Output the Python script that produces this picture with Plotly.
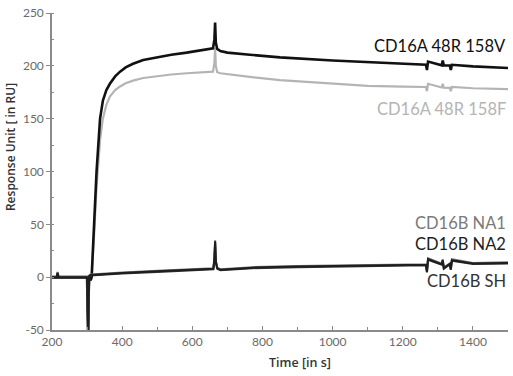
import plotly.graph_objects as go

# ---- data ----
t_a = [200, 214, 216, 218, 300, 302, 303, 304, 306, 310, 313, 320, 327, 337, 345, 355, 365, 380, 394,
       410, 431, 460, 499, 540, 584, 640, 659, 663, 665, 667, 671, 680, 700, 764, 850, 1000, 1100,
       1200, 1266, 1269, 1272, 1311, 1314, 1317, 1334, 1337, 1340, 1400, 1500]
v_158v = [0, 0, 4, 0, 0, -20, -55, -20, 0, -3, 0, 50, 100, 150, 167, 177, 183, 190, 194.5,
          198.5, 202, 205.5, 208, 210.5, 212.5, 215.5, 216.5, 225, 241, 222, 216, 214, 212.5, 210.5,
          208, 205, 203.5, 202, 201, 196, 204, 200.5, 205, 200.5, 200.3, 196, 201, 199.5, 198]
v_158f = [0, 0, 4, 0, 0, -20, -55, -20, 0, -3, 0, 40, 85, 130, 150, 163, 171, 177, 180.5,
          183.5, 186, 188.5, 190.3, 191.8, 193, 194, 194.5, 203, 217, 200, 194, 193, 192, 189.5,
          186.5, 183, 181, 180.3, 180, 176, 183, 179.5, 183, 179.3, 179.2, 176, 180, 178.8, 178]

t_b = [200, 214, 216, 218, 300, 302, 303, 304, 306, 310, 400, 500, 600, 660, 663, 665, 667, 671,
       680, 771, 900, 1000, 1100, 1200, 1266, 1269, 1272, 1311, 1314, 1317, 1334, 1337, 1340, 1400, 1500]
v_na1 = [0.5, 0.5, 5, 0.5, 0.5, -20, -55, -20, 1.5, 2.5, 4.5, 6, 7.5, 8.5, 18, 35, 16, 9,
         7.5, 9.5, 10.5, 11, 11.5, 12, 12.3, 5, 18, 12.8, 17, 9, 13, 8, 17, 13.5, 14]
v_na2 = [0, 0, 4, 0, 0, -20, -55, -20, 1, 2, 4, 5.5, 7, 8, 17, 34, 15, 8.5,
         7, 9, 10, 10.5, 11, 11.5, 11.8, 5, 17, 12.3, 16, 8.5, 12.5, 7.5, 16, 13, 13.5]
v_sh = [-0.5, -0.5, 3, -0.5, -0.5, -20, -55, -20, 0.5, 1.5, 3.5, 5, 6.5, 7.5, 16, 33, 14, 8,
        6.5, 8.5, 9.5, 10, 10.5, 11, 11.3, 4.5, 16.5, 11.8, 15.5, 8, 12, 7, 15.5, 12.5, 13]

labels = ["CD16A 48R 158V", "CD16A 48R 158F", "CD16B NA1", "CD16B NA2", "CD16B SH"]
label_y = [219, 159, 51, 31, -4]
colors = ["#111111", "#b4b4b4", "#7a7a7a", "#1e1e1e", "#333333"]

x_ticks = [200, 400, 600, 800, 1000, 1200, 1400]
y_ticks = [-50, 0, 50, 100, 150, 200, 250]

fig = go.Figure()
fig.add_trace(go.Scatter(x=t_a, y=v_158f, mode="lines", line=dict(color=colors[1], width=2.2),
                         name=labels[1]))
fig.add_trace(go.Scatter(x=t_a, y=v_158v, mode="lines", line=dict(color=colors[0], width=2.6),
                         name=labels[0]))
fig.add_trace(go.Scatter(x=t_b, y=v_na1, mode="lines", line=dict(color=colors[2], width=2),
                         name=labels[2]))
fig.add_trace(go.Scatter(x=t_b, y=v_sh, mode="lines", line=dict(color=colors[4], width=2),
                         name=labels[4]))
fig.add_trace(go.Scatter(x=t_b, y=v_na2, mode="lines", line=dict(color=colors[3], width=2),
                         name=labels[3]))

for lab, yy, c in zip(labels, label_y, colors):
    fig.add_annotation(x=1500, y=yy, xref="x", yref="y", text=lab, showarrow=False,
                       xanchor="right", yanchor="middle",
                       font=dict(family="Lato", size=16.5, color=c))

fig.add_annotation(x=(300 - 52) / 456, y=(330 - 363) / 324, xref="paper", yref="paper",
                   text="Time [in s]", showarrow=False, xanchor="center", yanchor="middle",
                   font=dict(family="Open Sans", size=12.5, color="#333333", weight=600))
fig.add_annotation(x=(10 - 52) / 456, y=(330 - 143) / 324, xref="paper", yref="paper",
                   text="Response Unit [ in RU]", showarrow=False, textangle=-90,
                   xanchor="center", yanchor="middle",
                   font=dict(family="Open Sans", size=12, color="#333333", weight=600))

axis_col = "#8a8a8a"
fig.update_xaxes(range=[200, 1500], tickvals=x_ticks, ticktext=[str(v) for v in x_ticks],
                 showline=True, linecolor=axis_col, linewidth=1.5, ticks="inside", ticklen=4,
                 tickcolor=axis_col, tickwidth=1.2, showgrid=False, zeroline=False,
                 ticklabeloverflow="allow",
                 minor=dict(dtick=100, tick0=200, ticks="inside", ticklen=3, tickcolor=axis_col),
                 tickfont=dict(family="Lato", size=12, color="#6a6a6a"))
fig.update_yaxes(range=[-50, 250], tickvals=y_ticks, ticktext=[str(v) for v in y_ticks],
                 showline=True, linecolor=axis_col, linewidth=1.5, ticks="outside", ticklen=4,
                 tickcolor=axis_col, tickwidth=1.2, showgrid=False, zeroline=False,
                 ticklabeloverflow="allow",
                 minor=dict(dtick=25, tick0=0, ticks="inside", ticklen=2, tickcolor=axis_col),
                 tickfont=dict(family="Lato", size=12, color="#6a6a6a"))

fig.update_layout(width=513, height=376, autosize=False, showlegend=False,
                  margin=dict(l=52, r=5, t=6, b=46),
                  plot_bgcolor="white", paper_bgcolor="white")

fig.write_html("out.html", config={"displayModeBar": False})

# remove the default page margin so the figure sits at the window's top-left corner
with open("out.html", "r", encoding="utf-8") as f:
    html = f.read()
html = html.replace("<head>", "<head><style>html,body{margin:0;padding:0;overflow:hidden;}</style>", 1)
with open("out.html", "w", encoding="utf-8") as f:
    f.write(html)
